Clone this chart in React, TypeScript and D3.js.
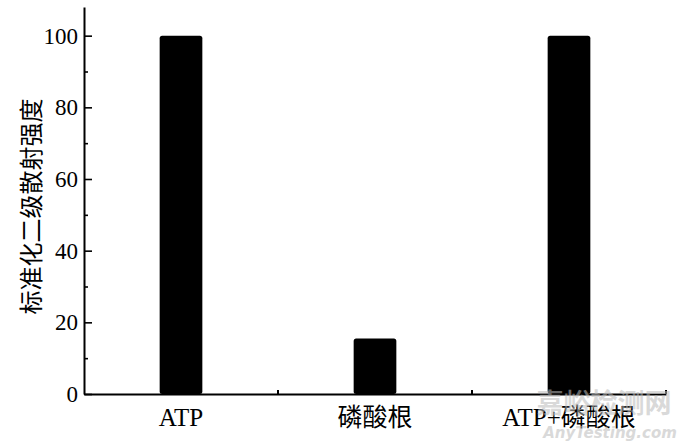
import React, { useEffect, useRef } from 'react';
import * as d3 from 'd3';

const categories = ['ATP', '磷酸根', 'ATP+磷酸根'];
const values = [100, 15.5, 100];
const yTicks = [0, 20, 40, 60, 80, 100];
const yMinorTicks = [10, 30, 50, 70, 90];
const yMax = 108;
const yLabel = '标准化二级散射强度';
const watermark = ['嘉峪检测网', 'AnyTesting.com'];

const FONT = "'Liberation Serif', 'Times New Roman', 'Noto Sans CJK SC', serif";

export default function App() {
  const svgRef = useRef<SVGSVGElement>(null);

  useEffect(() => {
    if (!svgRef.current) return;
    const svg = d3.select(svgRef.current);
    svg.selectAll('*').remove();

    const margin = { top: 7, right: 14, bottom: 51, left: 84 };
    const width = 680;
    const height = 445;

    const x = d3.scaleBand<string>()
      .domain(categories)
      .range([margin.left, width - margin.right])
      .padding(0);

    const y = d3.scaleLinear()
      .domain([0, yMax])
      .range([height - margin.bottom, margin.top]);

    // bars
    const barW = x.bandwidth() * 0.22;
    svg.append('g')
      .selectAll('rect')
      .data(values)
      .join('rect')
      .attr('x', (_, i) => x(categories[i])! + x.bandwidth() / 2 - barW / 2)
      .attr('y', d => y(d))
      .attr('width', barW)
      .attr('height', d => y(0) - y(d))
      .attr('rx', 2.5)
      .attr('fill', '#000');

    // y axis (minor ticks)
    svg.append('g')
      .attr('transform', `translate(${margin.left},0)`)
      .call(d3.axisLeft(y).tickValues(yMinorTicks).tickSize(-4).tickFormat(() => ''))
      .call(g => g.select('.domain').remove())
      .call(g => g.selectAll('line').attr('stroke', '#000').attr('stroke-width', 1.6));

    // y axis (major)
    svg.append('g')
      .attr('transform', `translate(${margin.left},0)`)
      .call(d3.axisLeft(y).tickValues(yTicks).tickSizeInner(-8).tickSizeOuter(0).tickPadding(6))
      .call(g => g.select('.domain').attr('stroke', '#000').attr('stroke-width', 2))
      .call(g => g.selectAll('line').attr('stroke', '#000').attr('stroke-width', 1.6))
      .call(g => g.selectAll('text')
        .attr('fill', '#000')
        .style('font-family', FONT)
        .style('font-size', '23px'));

    // x axis
    svg.append('g')
      .attr('transform', `translate(0,${y(0)})`)
      .call(d3.axisBottom(x).tickSize(0).tickSizeOuter(0).tickPadding(14))
      .call(g => g.select('.domain').attr('stroke', '#000').attr('stroke-width', 2))
      .call(g => g.selectAll('text')
        .attr('fill', '#000')
        .style('font-family', FONT)
        .style('font-size', '25px'));

    // x boundary ticks
    svg.append('g')
      .selectAll('line')
      .data(categories)
      .join('line')
      .attr('x1', d => x(d)! + x.bandwidth())
      .attr('x2', d => x(d)! + x.bandwidth())
      .attr('y1', y(0))
      .attr('y2', y(0) - 4)
      .attr('stroke', '#000')
      .attr('stroke-width', 2);

    // y label
    svg.append('text')
      .attr('transform', `translate(29,${(y(0) + y(yMax)) / 2 + 6}) rotate(-90)`)
      .attr('text-anchor', 'middle')
      .attr('dominant-baseline', 'central')
      .style('font-family', "'Noto Sans CJK SC', sans-serif")
      .style('font-size', '24px')
      .attr('fill', '#000')
      .text(yLabel);

    // watermark
    svg.append('text')
      .attr('x', 604)
      .attr('y', 413)
      .attr('text-anchor', 'middle')
      .style('font-family', "'Noto Sans CJK SC', sans-serif")
      .style('font-size', '27px')
      .style('font-weight', 'bold')
      .attr('fill', '#bbb')
      .attr('opacity', 0.55)
      .text(watermark[0]);

    svg.append('text')
      .attr('x', 610)
      .attr('y', 438)
      .attr('text-anchor', 'middle')
      .style('font-family', "'DejaVu Sans', sans-serif")
      .style('font-size', '15px')
      .style('font-style', 'italic')
      .style('font-weight', 'bold')
      .attr('fill', '#bbb')
      .attr('opacity', 0.55)
      .text(watermark[1]);
  }, []);

  return (
    <svg
      ref={svgRef}
      width={680}
      height={445}
      style={{ position: 'absolute', left: 0, top: 0, background: '#fff' }}
    />
  );
}
